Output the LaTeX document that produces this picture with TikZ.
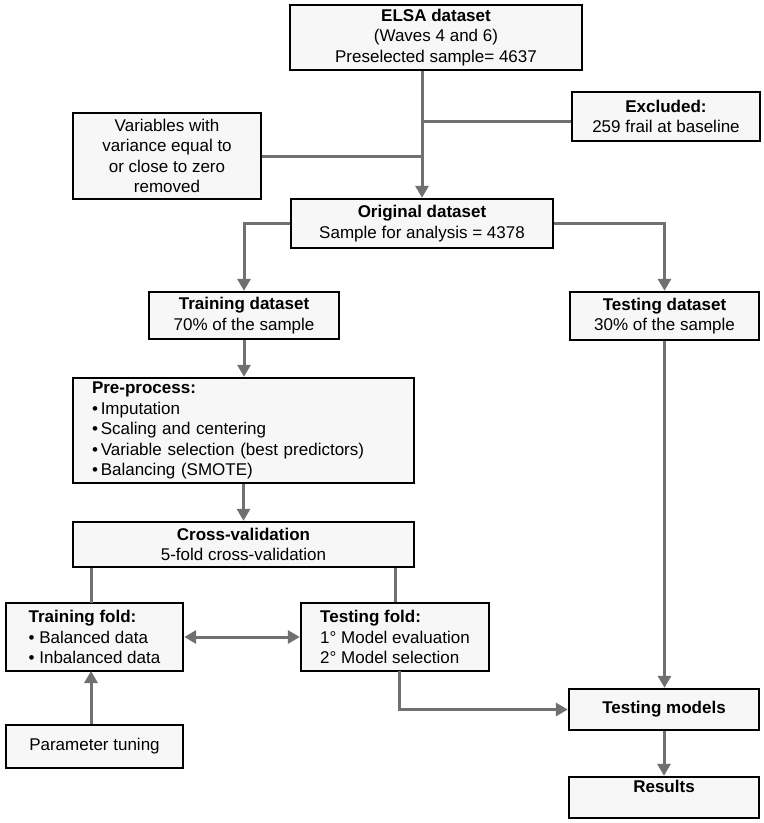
\documentclass[tikz,border=0pt]{standalone}
\usepackage{fontspec}
\setmainfont{Liberation Sans}
\usetikzlibrary{arrows.meta,calc}
\definecolor{linegray}{HTML}{707070}
\definecolor{boxfill}{HTML}{F7F7F7}
\begin{document}
\begin{tikzpicture}[x=1pt,y=-1pt,
  box/.style={draw=black, line width=2.4pt, fill=boxfill, inner xsep=0pt, inner ysep=0pt,
    align=center, font=\fontsize{17pt}{20.5pt}\selectfont},
  conn/.style={draw=linegray, line width=3pt},
  arr/.style={conn, -{Triangle[length=12pt,width=13pt]}},
  darr/.style={conn, {Triangle[length=12pt,width=13pt]}-{Triangle[length=12pt,width=13pt]}}]
\useasboundingbox (0,0) rectangle (764,823);

\node[box, minimum width=292pt, minimum height=65pt] (elsa) at (436,37.5)
  {\textbf{ELSA dataset}\\(Waves 4 and 6)\\Preselected sample= 4637};
\node[box, minimum width=188pt, minimum height=49pt] (excl) at (666,116.5)
  {\textbf{Excluded:}\\259 frail at baseline};
\node[box, minimum width=188pt, minimum height=86pt] (vars) at (167,156)
  {Variables with\\variance equal to\\or close to zero\\removed};
\node[box, minimum width=262pt, minimum height=49pt] (orig) at (422,223.5)
  {\textbf{Original dataset}\\Sample for analysis = 4378};
\node[box, minimum width=190pt, minimum height=47pt] (trainds) at (244,315.5)
  {\textbf{Training dataset}\\70\% of the sample};
\node[box, minimum width=189pt, minimum height=48pt] (testds) at (664.5,316)
  {\textbf{Testing dataset}\\30\% of the sample};
\node[box, minimum height=105pt, text width=303pt, inner xsep=19pt, align=left] (pre) at (243.5,430.5)
  {\textbf{Pre-process:}\\•\,Imputation\\•\,Scaling and centering\\•\,Variable selection (best predictors)\\•\,Balancing (SMOTE)};
\node[box, minimum width=341pt, minimum height=45pt] (cross) at (243.5,544.5)
  {\textbf{Cross-validation}\\5-fold cross-validation};
\node[box, minimum width=177pt, minimum height=68pt, align=left] (trfold) at (94.5,637)
  {\textbf{Training fold:}\\• Balanced data\\• Inbalanced data};
\node[box, minimum width=188pt, minimum height=68pt, align=left] (tefold) at (395,637)
  {\textbf{Testing fold:}\\1° Model evaluation\\2° Model selection};
\node[box, minimum width=177pt, minimum height=43pt] (param) at (94.5,746.5)
  {Parameter tuning};
\node[box, minimum width=190pt, minimum height=41pt] (testm) at (664,709.5)
  {\textbf{Testing models}};
\node[box, minimum width=190pt, minimum height=41pt, text depth=22pt] (res) at (664,797.5)
  {\textbf{Results}};

\coordinate (jexcl) at (422,121);
\coordinate (trtop) at (91,603);
\coordinate (trbot) at (91,671);
\coordinate (tebot) at (399,671);

\draw[arr] (orig.north |- elsa.south) -- (orig.north);
\draw[conn] (jexcl) -- (jexcl -| excl.west);
\draw[conn] (vars.east) -- (vars.east -| orig.north);
\draw[arr] (orig.west) -| (trainds.north);
\draw[arr] (orig.east) -| (testds.north);
\draw[arr] (trainds.south) -- (trainds.south |- pre.north);
\draw[arr] (pre.south) -- (cross.north);
\draw[conn] (trtop |- cross.south) -- (trtop);
\draw[conn] (tefold.north |- cross.south) -- (tefold.north);
\draw[darr] (trfold.east) -- (tefold.west);
\draw[arr] (trbot |- param.north) -- (trbot);
\draw[arr] (tebot) |- (testm.west);
\draw[arr] (testds.south) -- (testds.south |- testm.north);
\draw[arr] (testm.south) -- (testm.south |- res.north);
\end{tikzpicture}
\end{document}
